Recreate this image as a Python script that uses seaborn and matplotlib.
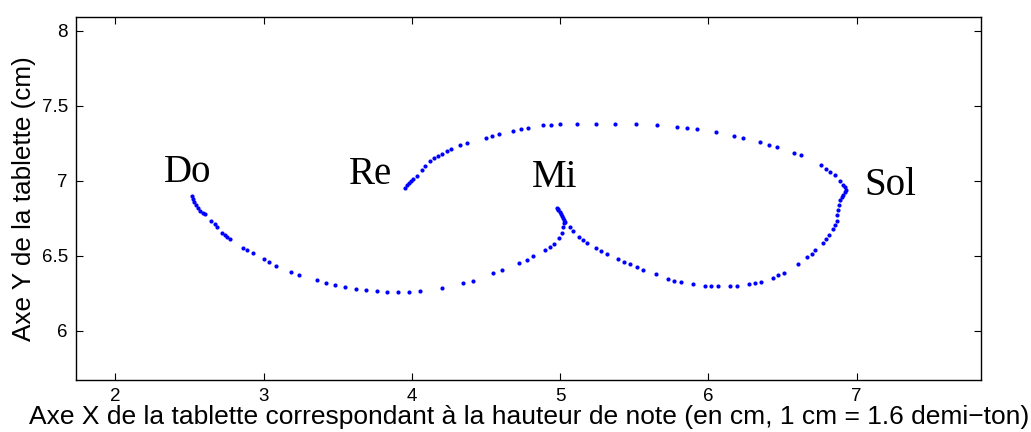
import matplotlib
matplotlib.use("Agg")
import matplotlib.pyplot as plt
import seaborn as sns
import pandas as pd

# trajectory of the pen on the tablet (cm), in drawing order: Do -> Mi -> Sol -> Re
x_cm = [2.515, 2.524, 2.534, 2.544, 2.558, 2.571, 2.591, 2.605, 2.645, 2.672, 2.684,
        2.722, 2.740, 2.755, 2.773, 2.859, 2.890, 2.926, 3.003, 3.038, 3.084, 3.185,
        3.241, 3.358, 3.419, 3.483, 3.549, 3.623, 3.691, 3.763, 3.834, 3.908, 3.978,
        4.055, 4.203, 4.343, 4.414, 4.549, 4.610, 4.724, 4.774, 4.819, 4.898, 4.931,
        4.958, 4.994, 5.010, 5.021, 5.026,
        5.026, 5.012, 4.999, 4.985, 4.976, 4.985, 5.005, 5.019, 5.032,
        5.066, 5.088, 5.129, 5.156, 5.183, 5.241, 5.273, 5.314, 5.388, 5.430, 5.471,
        5.516, 5.560, 5.646, 5.729, 5.767, 5.813, 5.893, 5.976, 6.017, 6.062, 6.145,
        6.190, 6.271, 6.313, 6.354, 6.433, 6.471, 6.507, 6.606, 6.662, 6.696, 6.720,
        6.770, 6.792, 6.815, 6.838, 6.853, 6.864,
        6.870, 6.875, 6.880, 6.887, 6.900, 6.909, 6.920, 6.925, 6.920, 6.909, 6.887,
        6.853, 6.819, 6.792, 6.757, 6.624, 6.577, 6.462, 6.406, 6.347, 6.231, 6.172,
        6.051, 5.920, 5.857, 5.790, 5.651, 5.511, 5.372, 5.239, 5.113, 4.999, 4.940,
        4.886, 4.781, 4.734, 4.684, 4.587, 4.542, 4.500, 4.370, 4.324, 4.262, 4.235,
        4.201, 4.178, 4.149, 4.122, 4.088, 4.066, 4.032, 4.009, 3.995, 3.982, 3.968,
        3.953]
y_cm = [6.898, 6.878, 6.858, 6.838, 6.818, 6.801, 6.785, 6.778, 6.733, 6.711, 6.693,
        6.653, 6.638, 6.627, 6.611, 6.553, 6.538, 6.516, 6.476, 6.456, 6.431, 6.393,
        6.373, 6.338, 6.320, 6.305, 6.293, 6.280, 6.271, 6.265, 6.260, 6.260, 6.260,
        6.263, 6.287, 6.316, 6.333, 6.383, 6.405, 6.449, 6.471, 6.498, 6.538, 6.560,
        6.578, 6.616, 6.649, 6.693, 6.716,
        6.738, 6.765, 6.791, 6.811, 6.820, 6.805, 6.778, 6.751, 6.727,
        6.693, 6.665, 6.627, 6.605, 6.587, 6.553, 6.533, 6.511, 6.480, 6.460, 6.443,
        6.427, 6.405, 6.376, 6.345, 6.331, 6.323, 6.309, 6.298, 6.298, 6.298, 6.298,
        6.298, 6.309, 6.316, 6.327, 6.353, 6.371, 6.387, 6.445, 6.489, 6.511, 6.536,
        6.587, 6.611, 6.636, 6.678, 6.705, 6.731,
        6.771, 6.805, 6.838, 6.871, 6.891, 6.905, 6.925, 6.938, 6.955, 6.971, 6.998,
        7.038, 7.060, 7.080, 7.105, 7.171, 7.187, 7.225, 7.240, 7.256, 7.285, 7.298,
        7.323, 7.345, 7.351, 7.360, 7.369, 7.376, 7.378, 7.380, 7.380, 7.378, 7.373,
        7.369, 7.353, 7.345, 7.333, 7.311, 7.300, 7.287, 7.249, 7.236, 7.209, 7.196,
        7.180, 7.167, 7.149, 7.131, 7.098, 7.071, 7.031, 7.011, 6.999, 6.987, 6.970,
        6.953]

note_names = ["Do", "Re", "Mi", "Sol"]
note_x = [2.49, 3.72, 4.965, 7.227]
note_y = [6.993, 6.976, 6.956, 6.905]

x_ticks = [2, 3, 4, 5, 6, 7]
y_ticks = [6, 6.5, 7, 7.5, 8]
y_tick_labels = ["6", "6.5", "7", "7.5", "8"]

df = pd.DataFrame({"x": x_cm, "y": y_cm})

sns.set_style("ticks")
plt.rcParams["font.family"] = ["Liberation Sans", "DejaVu Sans"]
plt.rcParams["text.color"] = "black"
plt.rcParams["axes.labelcolor"] = "black"

fig = plt.figure(figsize=(10.31, 4.32), dpi=100)
ax = fig.add_axes([0.074, 0.1204, 0.8775, 0.8409])

sns.scatterplot(data=df, x="x", y="y", color="#0000ff", s=9, linewidth=0, ax=ax)

for name, tx, ty in zip(note_names, note_x, note_y):
    ax.text(tx, ty, name, ha="center", va="baseline", fontsize=28,
            family="Liberation Serif", color="black")

ax.set_xlim(1.737, 7.838)
ax.set_ylim(5.671, 8.093)
ax.set_xticks(x_ticks)
ax.set_xticklabels([str(t) for t in x_ticks])
ax.set_yticks(y_ticks)
ax.set_yticklabels(y_tick_labels)
ax.tick_params(direction="in", length=5, width=0.8, top=True, right=True,
               labelsize=13.5, colors="black", pad=6)
for sp in ax.spines.values():
    sp.set_linewidth(1.0)
    sp.set_color("black")

ax.set_xlabel("Axe X de la tablette correspondant à la hauteur de note (en cm, 1 cm = 1.6 demi\u2212ton)",
              fontsize=19, labelpad=0)
ax.set_ylabel("Axe Y de la tablette (cm)", fontsize=18.8, labelpad=4)

fig.savefig("out.png", dpi=100)
